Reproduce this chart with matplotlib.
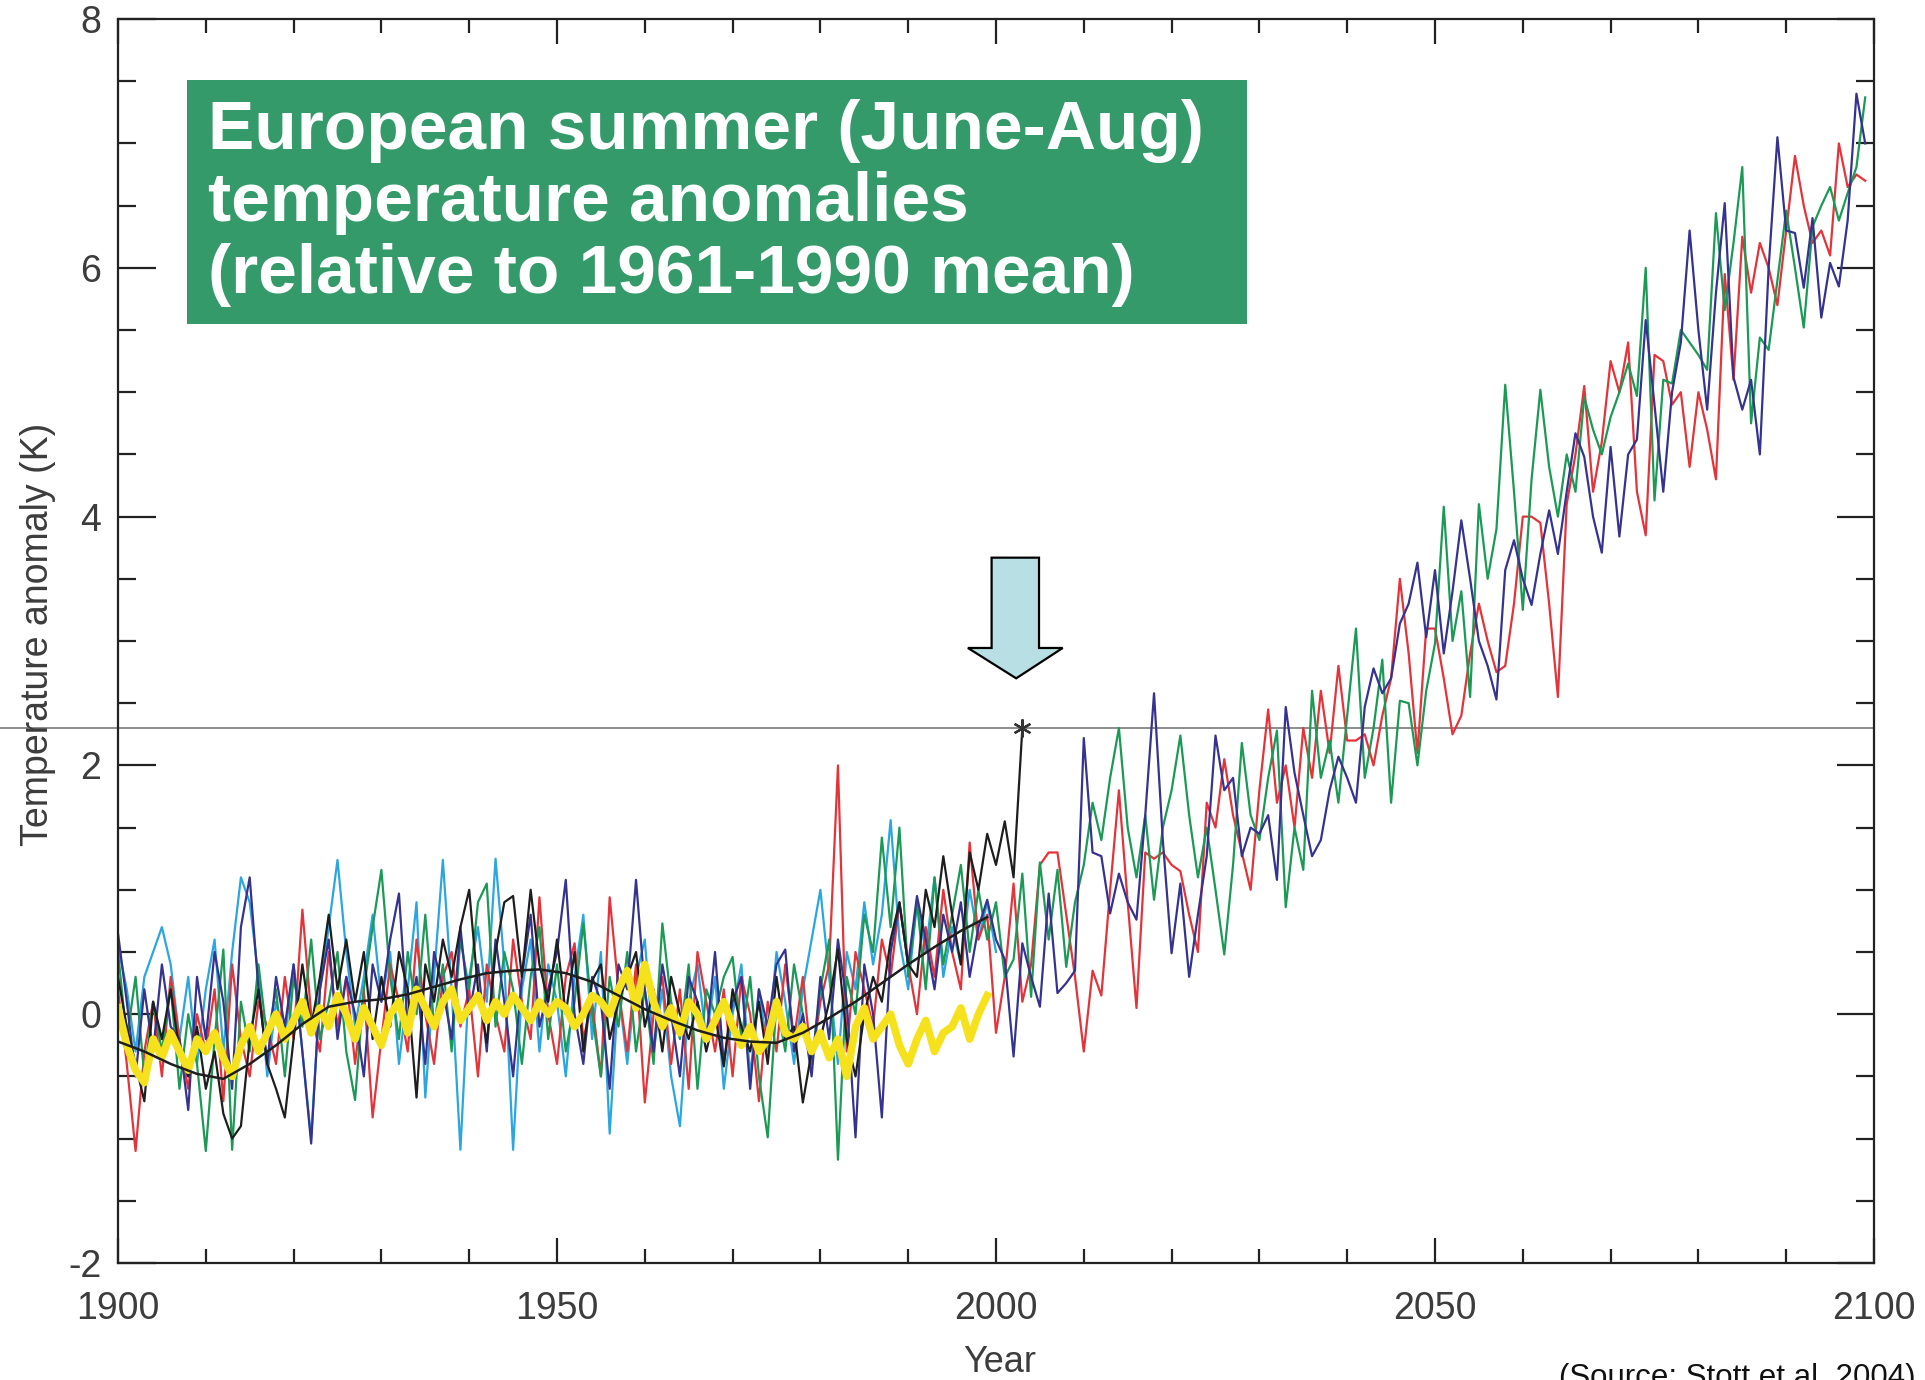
import matplotlib
matplotlib.use("Agg")
import matplotlib.pyplot as plt
from matplotlib.patches import Rectangle, Polygon
from matplotlib.ticker import MultipleLocator, FuncFormatter

plt.rcParams['font.family'] = ['Liberation Sans', 'DejaVu Sans']

# European summer (JJA) temperature anomalies, K, relative to 1961-1990
MODEL_START = 1900     # three model runs 1900-2099
OBS_START = 1900       # observations 1900-2003
NAT_START = 1900       # natural-forcing run 1900-1999

red_run = [
    0.2, -0.4, -1.1, -0.3, 0.1, -0.5, 0.3, -0.2, -0.6, 0.0,
    -0.3, 0.2, -0.7, 0.4, -0.2, -0.5, 0.1, -0.1, -0.4, 0.3,
    -0.2, 0.84, 0.0, -0.3, 0.5, -0.1, 0.3, -0.4, 0.2, -0.83,
    -0.2, 0.4, 0.1, -0.3, 0.6, 0.0, -0.4, 0.3, 0.5, -0.1,
    0.2, -0.5, 0.4, 0.0, -0.3, 0.6, 0.1, -0.2, 0.94, 0.0,
    -0.4, 0.3, 0.57, -0.2, 0.1, -0.5, 0.94, 0.2, -0.3, 0.4,
    -0.71, 0.0, 0.3, -0.4, 0.2, -0.6, 0.5, 0.1, -0.3, 0.2,
    -0.5, 0.3, 0.0, -0.7, 0.1, -0.3, 0.4, -0.2, 0.3, -0.4,
    0.1, 0.4, 2.0, -0.3, 0.5, 0.2, -0.1, 0.6, 0.3, 0.9,
    0.4, 0.0, 0.7, 0.3, 1.0, 0.5, 0.2, 1.38, 0.6, 0.8,
    -0.15, 0.3, 1.05, 0.1, 0.4, 1.2, 1.3, 1.3, 0.8, 0.3,
    -0.3, 0.35, 0.15, 1.0, 1.8, 0.9, 0.05, 1.3, 1.25, 1.3,
    1.2, 1.15, 0.8, 0.5, 1.7, 1.5, 2.05, 1.6, 1.3, 1.0,
    1.8, 2.45, 1.7, 2.0, 1.5, 2.3, 1.9, 2.6, 2.1, 2.8,
    2.2, 2.2, 2.25, 2.0, 2.4, 2.7, 3.5, 2.9, 2.1, 3.1,
    3.1, 2.7, 2.25, 2.4, 2.9, 3.3, 3.0, 2.75, 2.8, 3.3,
    4.0, 4.0, 3.95, 3.3, 2.55, 4.1, 4.5, 5.05, 4.2, 4.6,
    5.25, 5.0, 5.4, 4.2, 3.85, 5.3, 5.25, 4.9, 5.0, 4.4,
    5.0, 4.7, 4.3, 5.95, 5.1, 6.25, 5.8, 6.2, 6.0, 5.7,
    6.3, 6.9, 6.5, 6.2, 6.3, 6.1, 7.0, 6.65, 6.75, 6.7,
]

green_run = [
    0.5, -0.2, 0.3, -0.5, 0.1, -0.3, 0.22, -0.6, 0.0, -0.4,
    -1.1, -0.2, 0.52, -1.09, 0.1, -0.3, 0.4, -0.2, 0.2, -0.5,
    0.3, -0.1, 0.6, -0.2, 0.1, 0.5, -0.3, -0.69, 0.2, 0.7,
    1.16, 0.3, -0.2, 0.5, 0.0, 0.8, -0.1, 0.4, -0.3, 0.6,
    0.2, 0.9, 1.05, -0.1, 0.5, 0.2, -0.4, 0.3, 0.7, -0.2,
    0.4, -0.3, 0.1, 0.73, 0.0, -0.5, 0.3, -0.1, 0.5, -0.3,
    0.2, -0.4, 0.73, 0.1, -0.2, 0.4, -0.6, 0.2, 0.0, 0.3,
    0.46, -0.2, 0.3, -0.5, -0.99, 0.1, -0.3, 0.4, 0.0, -0.4,
    0.2, 0.6, -1.17, 0.3, 0.0, 0.8, 0.5, 1.42, 0.7, 1.5,
    0.3, 0.9, 0.2, 1.1, 0.4, 0.8, 1.2, 0.5, 1.0, 0.6,
    0.9, 0.3, 0.44, 1.13, 0.14, 1.22, 0.6, 1.16, 0.38, 0.9,
    1.2, 1.7, 1.4, 1.9, 2.3, 1.5, 1.1, 1.6, 0.92, 1.5,
    1.8, 2.24, 1.6, 1.1, 1.5, 1.0, 0.48, 1.2, 2.18, 1.6,
    1.4, 1.9, 2.28, 0.86, 1.5, 1.16, 2.6, 1.9, 2.2, 1.7,
    2.4, 3.1, 1.9, 2.3, 2.85, 1.7, 2.52, 2.5, 2.0, 2.6,
    2.98, 4.08, 3.0, 3.4, 2.55, 4.1, 3.5, 3.9, 5.06, 4.2,
    3.25, 4.3, 5.02, 4.4, 4.0, 4.5, 4.2, 4.96, 4.7, 4.5,
    4.8, 5.0, 5.23, 4.97, 6.0, 4.13, 5.1, 5.07, 5.5, 5.4,
    5.3, 5.18, 6.44, 5.66, 6.2, 6.81, 4.75, 5.44, 5.34, 5.9,
    6.46, 6.0, 5.52, 6.33, 6.5, 6.65, 6.38, 6.6, 6.81, 7.37,
]

navy_run = [
    0.65, 0.1, -0.5, 0.2, -0.3, 0.4, -0.1, -0.2, -0.77, 0.3,
    -0.2, 0.5, 0.1, -0.6, 0.7, 1.1, 0.2, -0.4, 0.3, -0.1,
    0.4, -0.3, -1.04, 0.2, 0.6, -0.2, 0.3, 0.0, -0.5, 0.4,
    0.1, 0.6, 0.97, -0.1, 0.3, -0.4, 0.5, 0.2, -0.2, 0.7,
    0.0, 0.4, -0.3, 0.6, 0.1, -0.5, 0.3, 0.8, -0.1, 0.2,
    0.5, 1.08, 0.0, -0.4, 0.3, 0.1, -0.6, 0.4, 0.2, 1.08,
    0.2, -0.3, 0.4, 0.0, -0.5, 0.3, 0.1, -0.2, 0.5, -0.4,
    0.1, 0.3, -0.6, 0.2, -0.1, 0.4, 0.52, -0.3, 0.0, -0.5,
    0.3, -0.2, 0.6, 0.1, -0.99, 0.4, 0.0, -0.83, 0.5, 0.89,
    0.4, 0.95, 0.6, 0.2, 0.8, 0.5, 0.9, 0.3, 0.7, 0.92,
    0.6, 0.44, -0.34, 0.57, 0.3, 0.06, 0.97, 0.17, 0.25, 0.35,
    2.22, 1.3, 1.27, 0.81, 1.13, 0.9, 0.76, 1.6, 2.58, 1.4,
    0.49, 1.05, 0.3, 0.8, 1.27, 2.24, 1.8, 1.9, 1.27, 1.5,
    1.45, 1.6, 1.08, 2.47, 1.94, 1.6, 1.27, 1.4, 1.8, 2.07,
    1.9, 1.7, 2.47, 2.78, 2.58, 2.7, 3.14, 3.3, 3.63, 3.03,
    3.57, 2.9, 3.4, 3.97, 3.5, 3.0, 2.8, 2.53, 3.57, 3.81,
    3.5, 3.29, 3.7, 4.05, 3.7, 4.2, 4.67, 4.48, 4.0, 3.71,
    4.56, 3.84, 4.5, 4.62, 5.58, 4.9, 4.2, 5.0, 5.4, 6.3,
    5.5, 4.86, 5.8, 6.52, 5.12, 4.86, 5.1, 4.5, 6.0, 7.05,
    6.3, 6.28, 5.84, 6.4, 5.6, 6.04, 5.85, 6.38, 7.4, 7.0,
]

cyan_run = [
    0.55, 0.2, -0.3, 0.3, 0.5, 0.7, 0.4, -0.2, 0.3, -0.4,
    0.2, 0.6, -0.3, 0.5, 1.1, 0.9, 0.3, -0.5, 0.1, -0.2,
    0.4, -0.3, -1.0, 0.2, 0.7, 1.24, 0.5, -0.1, 0.3, 0.8,
    0.1, 0.5, -0.4, 0.2, 0.9, -0.67, 0.3, 1.24, 0.2, -1.09,
    0.3, 0.7, 0.1, 1.25, 0.4, -1.09, 0.2, 0.6, -0.3, 0.4,
    0.1, -0.5, 0.3, 0.8, -0.2, 0.5, -0.96, 0.2, -0.4, 0.3,
    0.6, -0.3, 0.2, -0.5, -0.9, 0.1, 0.4, -0.2, 0.3, -0.6,
    0.0, 0.4, -0.5, 0.2, -0.3, 0.5, 0.1, -0.4, 0.2, 0.6,
    1.0, 0.3, -0.4, 0.5, 0.2, 0.9, 0.4, 0.8, 1.56, 0.6,
    0.2, 0.9, 0.5, 1.1, 0.3, 0.7, 0.4, 1.0, 0.6, 0.9,
    0.5,
]

observed = [
    0.3, -0.1, -0.4, -0.7, 0.1, -0.2, 0.2, -0.3, -0.5, -0.1,
    -0.6, -0.3, -0.8, -1.0, -0.9, -0.2, 0.2, -0.4, -0.6, -0.83,
    -0.2, 0.4, -0.1, 0.3, 0.8, 0.2, 0.6, 0.1, 0.5, -0.2,
    0.3, -0.1, 0.5, 0.2, -0.67, 0.4, 0.1, 0.6, 0.3, 0.7,
    1.0, 0.2, -0.23, 0.5, 0.9, 0.95, 0.3, 1.0, 0.4, 0.1,
    0.6, 0.0, 0.5, -0.3, 0.27, 0.4, -0.2, 0.1, 0.3, 0.5,
    -0.1, 0.2, -0.3, 0.3, 0.0, -0.2, 0.1, -0.3, 0.0, -0.42,
    0.2, -0.1, -0.3, 0.1, -0.4, 0.3, -0.2, -0.1, -0.71, -0.3,
    -0.2, 0.1, 0.52, -0.2, -0.5, 0.0, 0.3, 0.1, 0.6, 0.9,
    0.4, 0.3, 1.0, 0.7, 1.27, 0.8, 0.4, 1.3, 1.0, 1.45,
    1.2, 1.55, 1.1, 2.3,
]

natural_run = [
    0.05, -0.25, -0.45, -0.55, -0.2, -0.35, -0.15, -0.3, -0.45, -0.2,
    -0.3, -0.15, -0.35, -0.5, -0.25, -0.1, -0.3, -0.15, 0.0, -0.2,
    -0.05, 0.1, -0.15, 0.05, -0.1, 0.15, 0.0, -0.2, 0.05, -0.1,
    -0.25, 0.0, 0.1, -0.15, 0.2, 0.05, -0.1, 0.1, 0.2, -0.05,
    0.05, 0.15, -0.05, 0.1, 0.0, 0.15, 0.05, -0.05, 0.1, 0.0,
    0.1, 0.05, -0.1, 0.0, 0.15, 0.1, 0.0, 0.2, 0.35, 0.05,
    0.4, 0.1, -0.1, 0.05, -0.15, 0.1, 0.0, -0.2, -0.05, 0.1,
    -0.1, -0.25, -0.1, -0.3, -0.2, 0.1, -0.15, -0.2, -0.1, -0.3,
    -0.15, -0.35, -0.2, -0.5, -0.1, 0.05, -0.2, -0.1, 0.0, -0.25,
    -0.4, -0.2, -0.05, -0.3, -0.15, -0.1, 0.05, -0.2, 0.0, 0.15,
]

# low-pass filtered observations
smooth_years = [1900, 1903, 1906, 1909, 1912, 1915, 1918, 1921, 1924, 1927,
                1930, 1933, 1936, 1939, 1942, 1945, 1948, 1951, 1954, 1957,
                1960, 1963, 1966, 1969, 1972, 1975, 1978, 1981, 1984, 1987,
                1990, 1993, 1996, 1999]
smooth_obs = [-0.22, -0.30, -0.40, -0.48, -0.52, -0.40, -0.25, -0.08, 0.06, 0.10,
              0.12, 0.16, 0.22, 0.28, 0.33, 0.35, 0.36, 0.33, 0.26, 0.15,
              0.04, -0.05, -0.13, -0.19, -0.22, -0.23, -0.15, -0.03, 0.10, 0.25,
              0.40, 0.54, 0.67, 0.78]


def years_from(start, values):
    return list(range(start, start + len(values)))


fig = plt.figure(figsize=(19.25, 13.8), dpi=100)
ax = fig.add_axes([0.0613, 0.0848, 0.9122, 0.9014])

thin = 1.6
ax.plot(years_from(OBS_START, cyan_run), cyan_run, color='#2ba6df', lw=thin)
ax.plot(years_from(MODEL_START, red_run), red_run, color='#e5333a', lw=thin)
ax.plot(years_from(MODEL_START, green_run), green_run, color='#1b9a55', lw=thin)
ax.plot(years_from(MODEL_START, navy_run), navy_run, color='#35338f', lw=thin)
obs_years = years_from(OBS_START, observed)
ax.plot(obs_years, observed, color='#1e1e1e', lw=thin)
ax.plot(years_from(NAT_START, natural_run), natural_run, color='#f6e21c', lw=5.5,
        solid_joinstyle='round')
ax.plot(smooth_years, smooth_obs, color='#1e1e1e', lw=1.8)

# 2003 level and its marker
level_2003 = observed[-1]
ax.plot([-0.068, 1.0], [level_2003, level_2003], color='#8c8c8c', lw=1.4,
        transform=ax.get_yaxis_transform(), clip_on=False, zorder=1)
ax.plot([obs_years[-1]], [level_2003], marker=(6, 2, 0), ms=13, mew=1.6,
        color='#333333', zorder=5)

# block arrow pointing at 2003
arrow = Polygon([(1999.5, 3.67), (2004.9, 3.67), (2004.9, 2.944), (2007.6, 2.944),
                 (2002.3, 2.70), (1996.8, 2.944), (1999.5, 2.944)],
                closed=True, facecolor='#b8dfe3', edgecolor='black', lw=1.6,
                zorder=6, clip_on=False)
ax.add_patch(arrow)

ax.set_xlim(1900, 2100)
ax.set_ylim(-2, 8)
ax.xaxis.set_major_locator(MultipleLocator(50))
ax.xaxis.set_minor_locator(MultipleLocator(10))
ax.yaxis.set_major_locator(MultipleLocator(2))
ax.yaxis.set_minor_locator(MultipleLocator(0.5))
ax.yaxis.set_major_formatter(FuncFormatter(lambda v, p: '%d' % v))
ax.tick_params(which='both', direction='in', top=True, right=True,
               color='#222222', width=1.6, labelcolor='#3c3c3c', labelsize=27)
ax.tick_params(axis='x', which='major', length=18, pad=20)
ax.tick_params(axis='x', which='minor', length=10)
ax.tick_params(axis='y', which='major', length=27, pad=12)
ax.tick_params(axis='y', which='minor', length=13)
for s in ax.spines.values():
    s.set_linewidth(1.6)
    s.set_color('#222222')

fig.text(38 / 1925, 1 - 634 / 1380, 'Temperature anomaly (K)', rotation=90,
         ha='center', va='center', fontsize=27, color='#3c3c3c')
fig.text(1000 / 1925, 1 - 1362 / 1380, 'Year', ha='center', va='center',
         fontsize=26, color='#3c3c3c')
fig.text(0.995, 0.012, '(Source: Stott et al. 2004)', ha='right', va='top',
         fontsize=22.5, color='#111111')

# title box
fig.patches.append(Rectangle((187 / 1925, 1 - 324 / 1380), 1060 / 1925, 244 / 1380,
                             transform=fig.transFigure, facecolor='#349a6a',
                             edgecolor='none', zorder=10))
fig.text(208 / 1925, 1 - 99 / 1380,
         'European summer (June-Aug)\ntemperature anomalies\n(relative to 1961-1990 mean)',
         ha='left', va='top', fontsize=50, fontweight='bold', color='white',
         linespacing=1.16, zorder=11)

fig.savefig('out.png', dpi=100)
